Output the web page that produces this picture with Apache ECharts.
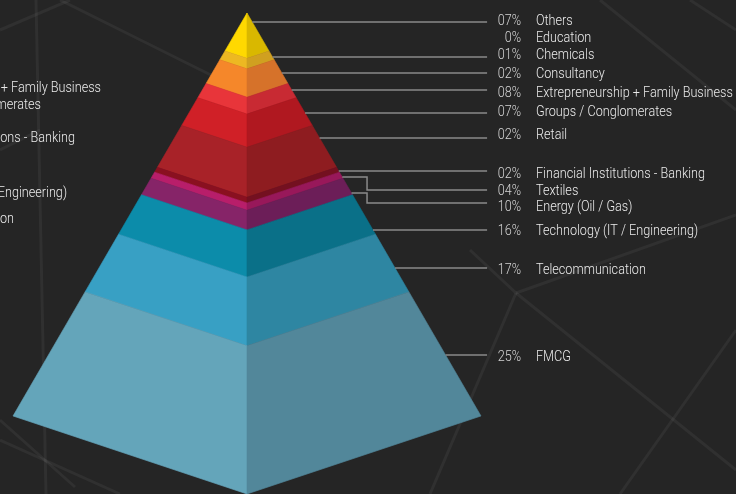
<!DOCTYPE html>
<html><head><meta charset="utf-8">
<script src="https://cdn.jsdelivr.net/npm/echarts@6/dist/echarts.min.js"></script>
<style>html,body{margin:0;padding:0;background:#252525;}#c{width:736px;height:494px;}</style>
</head><body><div id="c"></div>
<script>
// ---- data ----
const categories = ['Others','Education','Chemicals','Consultancy','Extrepreneurship + Family Business','Groups / Conglomerates','Retail','Financial Institutions - Banking','Textiles','Energy (Oil / Gas)','Technology (IT / Engineering)','Telecommunication','FMCG'];
const percentLabels = ['07%','0%','01%','02%','08%','07%','02%','02%','04%','10%','16%','17%','25%'];
const values = [7,0,1,2,8,7,2,2,4,10,16,17,25];
// depth (% of pyramid height along the front edge) at which each band ends
const bandEnd = [9.4, 9.4, 11.6, 17.5, 21.0, 27.9, 38.3, 39.5, 41.0, 45.1, 54.9, 69.2, 100];
// label layout (same depth units)
const labelDepth = [1.7, 5.25, 8.8, 12.75, 16.7, 20.65, 25.45, 33.55, 37.1, 40.4, 45.4, 53.5, 71.6];
const leaderStart = [1.87, null, 9.15, 12.47, 16.01, 20.79, 25.99, 32.85, 34.10, 37.42, 45.11, 53.01, 71.10];
const leaderEnd   = [1.87, null, 9.15, 12.47, 16.01, 20.79, 25.99, 32.85, 36.80, 39.50, 45.11, 53.01, 71.10];
// ---- styles ----
const leftColors  = ['#FFD900','#EDB822','#EDB822','#F5872A','#E8353A','#D02027','#A82228','#8A1020','#B81E6A','#862468','#0C8CAA','#38A0C4','#64A5BA'];
const rightColors = ['#D9B800','#D0A020','#D0A020','#D6722A','#C82A33','#B01820','#8E1C20','#741020','#98185A','#6C1E58','#0A7088','#2E86A2','#52879A'];

const SIDE = 403 / 481;   // side corners sit higher than the front corner
const FONT = 'Roboto';
const SX = 0.843;

const chart = echarts.init(document.getElementById('c'), null, {renderer: 'canvas'});

function bandItem(params, api) {
  const i = api.value(0);
  const d0 = i === 0 ? 0 : bandEnd[i - 1];
  const d1 = bandEnd[i];
  if (d1 <= d0) return {type: 'group', children: []};
  const c = p => api.coord(p);
  const lf = [c([0, d0]), c([-d0 / 100, d0 * SIDE]), c([-d1 / 100, d1 * SIDE]), c([0, d1])];
  const rf = [c([0, d0]), c([d0 / 100, d0 * SIDE]), c([d1 / 100, d1 * SIDE]), c([0, d1])];
  return {type: 'group', children: [
    {type: 'polygon', shape: {points: lf}, style: {fill: leftColors[i], stroke: leftColors[i], lineWidth: 0.6}},
    {type: 'polygon', shape: {points: rf}, style: {fill: rightColors[i], stroke: rightColors[i], lineWidth: 0.6}}
  ]};
}

function labelItem(params, api) {
  const i = api.value(0);
  const kids = [];
  const pctPos = api.coord([1.171, labelDepth[i]]);
  const namePos = api.coord([1.235, labelDepth[i]]);
  kids.push({type: 'text', x: pctPos[0], y: pctPos[1], scaleX: SX,
    style: {text: percentLabels[i], x: 0, y: 0, align: 'right', verticalAlign: 'middle',
      fill: '#d4d4d4', fontFamily: FONT, fontWeight: 300, fontSize: 15}});
  kids.push({type: 'text', x: namePos[0], y: namePos[1], scaleX: SX,
    style: {text: categories[i], x: 0, y: 0, align: 'left', verticalAlign: 'middle',
      fill: '#ebebeb', fontFamily: FONT, fontWeight: 300, fontSize: 15}});
  if (leaderStart[i] !== null) {
    const ls = leaderStart[i], le = leaderEnd[i];
    const edgeX = (ls / SIDE) / 100;
    const pts = [api.coord([edgeX, ls])];
    if (le !== ls) {
      pts.push(api.coord([0.513, ls]));
      pts.push(api.coord([0.513, le]));
    }
    pts.push(api.coord([1.026, le]));
    kids.push({type: 'polyline', shape: {points: pts}, style: {stroke: '#8a8a8a', lineWidth: 1.5, fill: null}});
  }
  return {type: 'group', children: kids};
}

// labels of a neighbouring panel, cut off by the left edge
const leftCut = [[4, 101, 88], [5, 41, 105], [7, 75, 138], [10, 67, 193], [11, 14, 219]];
const deco = [
  [[36,0],[46,494]], [[60,0],[245,92]], [[0,30],[70,0]], [[0,150],[40,130]],
  [[516,293],[736,215]], [[516,293],[430,494]], [[516,293],[736,470]], [[516,293],[470,250]],
  [[600,0],[736,110]], [[690,0],[736,30]], [[620,494],[736,330]], [[0,440],[120,494]], [[75,487],[0,420]]
];
const graphics = deco.map(d => ({type: 'line', silent: true, z: -10,
  shape: {x1: d[0][0], y1: d[0][1], x2: d[1][0], y2: d[1][1]},
  style: {stroke: 'rgba(255,255,255,0.05)', lineWidth: 3, shadowBlur: 4, shadowColor: 'rgba(255,255,255,0.08)'}}));
leftCut.forEach(l => graphics.push({type: 'text', x: l[1], y: l[2], scaleX: SX, silent: true,
  style: {text: categories[l[0]], x: 0, y: 0, align: 'right', verticalAlign: 'middle',
    fill: '#ebebeb', fontFamily: FONT, fontWeight: 300, fontSize: 15}}));

chart.setOption({
  backgroundColor: '#252525',
  animation: false,
  graphic: graphics,
  grid: {left: 13, right: 255, top: 13, bottom: 0},
  xAxis: {type: 'value', min: -1, max: 1, show: false},
  yAxis: {type: 'value', min: 0, max: 100, inverse: true, show: false},
  series: [
    {type: 'custom', renderItem: bandItem, silent: true, clip: false,
      data: categories.map((n, i) => [i, values[i]])},
    {type: 'custom', renderItem: labelItem, silent: true, clip: false,
      data: categories.map((n, i) => [i, values[i]])}
  ]
});
</script>
</body></html>
